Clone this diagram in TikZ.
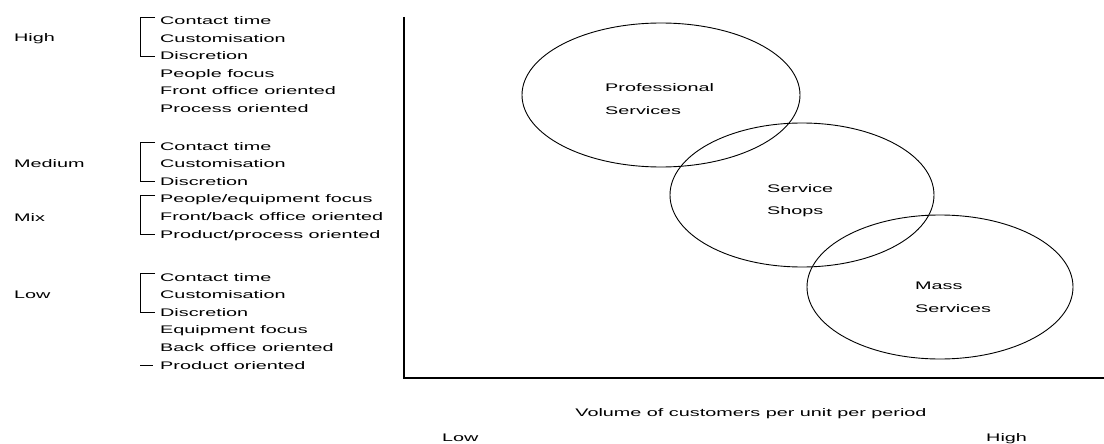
\documentclass[tikz,border=0pt]{standalone}
\usepackage{fontspec}
\setmainfont{Liberation Sans}[FakeStretch=1.8]
\usetikzlibrary{calc}

\begin{document}
\begin{tikzpicture}[x=1pt, y=-1pt, font=\fontsize{11}{13}\selectfont,
    txt/.style={anchor=base west, inner sep=0pt},
    brack/.style={line width=0.9pt}]
    \useasboundingbox (0,0) rectangle (1104,444);
    % left column: characteristics
    \node[txt] (high) at (14,42) {High};
    \foreach \t [count=\i] in {Contact time, Customisation, Discretion, People focus, Front office oriented, Process oriented}
        \node[txt] (hi\i) at (160, {25+17.5*(\i-1)}) {\t};
    \draw[brack] ($(hi1.base west)+(-5,-7.5)$) -- ++(-15,0) |- ($(hi3.base west)+(-5,-4)$);

    \node[txt] (medium) at (14,167) {Medium};
    \node[txt] (mix) at (14,221) {Mix};
    \foreach \t [count=\i] in {Contact time, Customisation, Discretion, People/equipment focus, Front/back office oriented, Product/process oriented}
        \node[txt] (me\i) at (160, {150+17.6*(\i-1)}) {\t};
    \draw[brack] ($(me1.base west)+(-5,-7.5)$) -- ++(-15,0) |- ($(me3.base west)+(-5,-4)$);
    \draw[brack] ($(me4.base west)+(-5,-7.5)$) -- ++(-15,0) |- ($(me6.base west)+(-5,-4)$);

    \node[txt] (low) at (14,298) {Low};
    \foreach \t [count=\i] in {Contact time, Customisation, Discretion, Equipment focus, Back office oriented, Product oriented}
        \node[txt] (lo\i) at (160, {281+17.6*(\i-1)}) {\t};
    \draw[brack] ($(lo1.base west)+(-5,-7.5)$) -- ++(-15,0) |- ($(lo3.base west)+(-5,-4)$);
    \draw[brack] ($(lo6.base west)+(-20,-4)$) -- ++(13,0);

    % axes
    \draw[line width=1.3pt] (404,17) -- (404,378) -- (1104,378);

    % service types
    \draw[line width=0.9pt] (661,95) ellipse [x radius=139, y radius=72];
    \draw[line width=0.9pt] (802,195) ellipse [x radius=132, y radius=72];
    \draw[line width=0.9pt] (940,287) ellipse [x radius=133, y radius=72];
    \node[txt] (prof) at (605,92) {Professional};
    \node[txt] (profs) at (605,114) {Services};
    \node[txt] (shop) at (767,192) {Service};
    \node[txt] (shops) at (767,214) {Shops};
    \node[txt] (mass) at (915,289) {Mass};
    \node[txt] (masss) at (915,312) {Services};

    % volume axis labels
    \node[anchor=base, inner sep=0pt] (vol) at (751,416) {Volume of customers per unit per period};
    \node[txt] (vlow) at (442,441) {Low};
    \node[txt] (vhigh) at (986,441) {High};
\end{tikzpicture}
\end{document}
